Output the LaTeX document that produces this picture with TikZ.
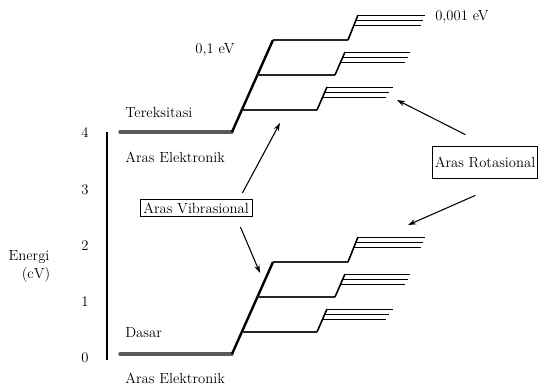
\documentclass[tikz,border=0pt]{standalone}
\usetikzlibrary{arrows.meta,calc}
\tikzset{
  elektronik/.style={line width=2.6pt, gray!70!black, line cap=round},
  naik/.style={line width=1.8pt},
  vibrasi/.style={line width=1.2pt, black!85},
  rotasi/.style={line width=0.6pt},
  teks/.style={anchor=west, inner sep=0pt},
  kotak/.style={draw, semithick, inner sep=2.5pt},
  panah/.style={-{Stealth[length=6pt,width=4pt]}, thick},
}
\begin{document}
\begin{tikzpicture}[x=0.75pt, y=-0.75pt, font=\fontsize{11}{13}\selectfont]
\useasboundingbox (0,0) rectangle (539,386);
% sumbu energi
\draw[line width=1.4pt] (107,132) -- (107,360);
\node (T_4) at (85,133) {4};
\node (T_3) at (85,190) {3};
\node (T_2) at (85,246) {2};
\node (T_1) at (85,302) {1};
\node (T_0) at (85,358) {0};
\node (Energi) at (29,257) {Energi};
\node (Satuan) at (36,275) {(cV)};
% dua aras elektronik
\foreach \dy in {0,222} {
  \draw[elektronik] (120,132+\dy) -- (232,132+\dy);
  \draw[naik] (232,132+\dy) -- (273,40+\dy);
  \draw[vibrasi] (273,40+\dy) -- (348,40+\dy);
  \draw[vibrasi] (257,75+\dy) -- (335,75+\dy);
  \draw[vibrasi] (242,110+\dy) -- (317,110+\dy);
  \draw[naik, line width=1.2pt] (317,110+\dy) -- (327,87+\dy);
  \draw[naik, line width=1.2pt] (335,75+\dy) -- (345,52+\dy);
  \draw[naik, line width=1.2pt] (348,40+\dy) -- (358,15+\dy);
  \draw[rotasi] (327,87+\dy) -- (393,87+\dy);
  \draw[rotasi] (325,92+\dy) -- (389,92+\dy);
  \draw[rotasi] (323,97+\dy) -- (386,97+\dy);
  \draw[rotasi] (345,52+\dy) -- (410,52+\dy);
  \draw[rotasi] (343,57+\dy) -- (408,57+\dy);
  \draw[rotasi] (341,62+\dy) -- (405,62+\dy);
  \draw[rotasi] (358,15+\dy) -- (425,15+\dy);
  \draw[rotasi] (356,20+\dy) -- (423,20+\dy);
  \draw[rotasi] (354,25+\dy) -- (421,25+\dy);
}
% label
\node (Vib_eV) at (215,50) {0,1 eV};
\node[teks] (Rot_eV) at (435,17) {0,001 eV};
\node[teks] (Tereksitasi) at (125,112) {Tereksitasi};
\node[teks] (Elektronik_1) at (125,157) {Aras Elektronik};
\node[teks] (Dasar) at (125,333) {Dasar};
\node[teks] (Elektronik_0) at (125,378) {Aras Elektronik};
\node[kotak] (Vib) at (196,208) {Aras Vibrasional};
\node[kotak, inner xsep=1.5pt, minimum height=24pt] (Rot) at (485,162) {Aras Rotasional};
% panah
\coordinate (Vib_1) at (280,123);
\coordinate (Vib_0) at (260,273);
\coordinate (Rot_1) at (397,100);
\coordinate (Rot_0) at (408,225);
\draw[panah] ($(Vib.north east)+(-10,-6)$) -- (Vib_1);
\draw[panah] ($(Vib.south east)+(-12,10)$) -- (Vib_0);
\draw[panah] ($(Rot.north west)+(33,-11)$) -- (Rot_1);
\draw[panah] ($(Rot.south west)+(43,17)$) -- (Rot_0);
\end{tikzpicture}
\end{document}
